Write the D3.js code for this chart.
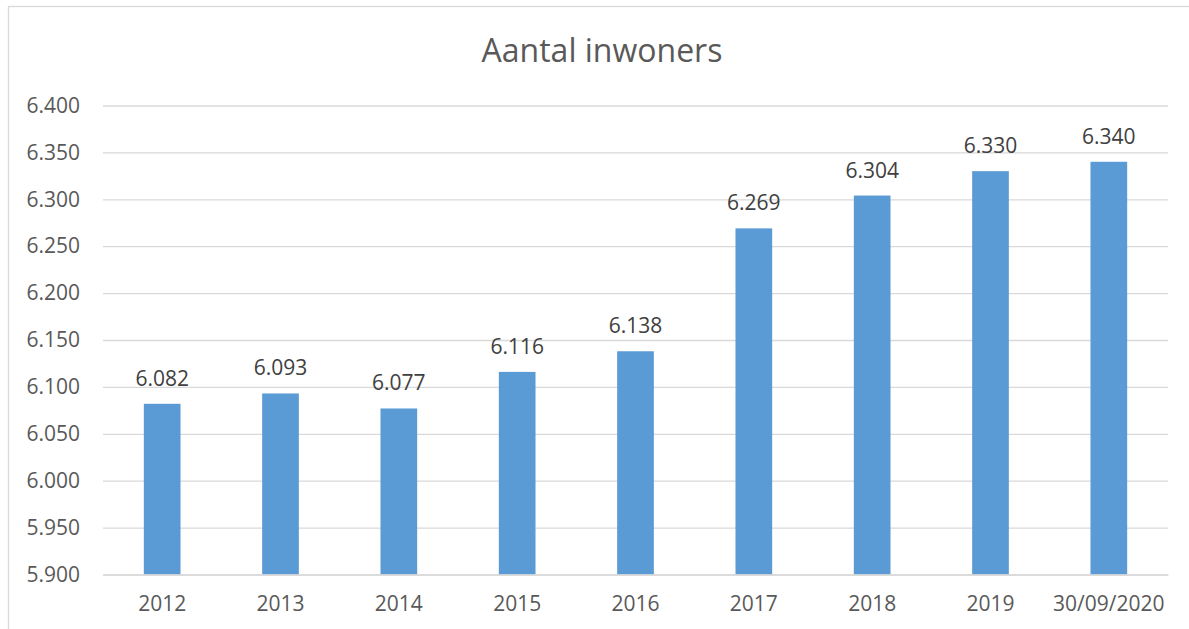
<!DOCTYPE html>
<html><head><meta charset="utf-8">
<script src="https://cdn.jsdelivr.net/npm/d3@7"></script>
<style>html,body{margin:0;padding:0;background:#fff;}svg{display:block;}</style>
</head><body>
<script>
const categories = ["2012","2013","2014","2015","2016","2017","2018","2019","30/09/2020"];
const values = [6082, 6093, 6077, 6116, 6138, 6269, 6304, 6330, 6340];
const yTicks = [5900, 5950, 6000, 6050, 6100, 6150, 6200, 6250, 6300, 6350, 6400];
const title = "Aantal inwoners";

(function () {
const W = 1189, H = 629;
const font = "'Open Sans', sans-serif";
const nl = d3.formatLocale({decimal: ",", thousands: ".", grouping: [3], currency: ["€", ""]});
const fmt = nl.format(",d");

const svg = d3.select("body").append("svg").attr("width", W).attr("height", H);
svg.append("rect").attr("x", 8.5).attr("y", 6.5).attr("width", W + 10).attr("height", H + 10)
  .attr("fill", "#fff").attr("stroke", "#d9d9d9").attr("stroke-width", 1.3);

const mLeft = 103, mRight = 1168, mTop = 105.5, mBottom = 574.5;
const x = d3.scaleBand().domain(categories).range([mLeft, mRight]).paddingInner(0.69).paddingOuter(0.345);
const y = d3.scaleLinear().domain([5900, 6400]).range([mBottom, mTop]);

svg.append("text").attr("x", 602).attr("y", 62).attr("text-anchor", "middle")
  .attr("font-family", font).attr("font-size", 32).attr("fill", "#595959").text(title);

const yAxis = d3.axisLeft(y).tickValues(yTicks).tickSize(-(mRight - mLeft)).tickPadding(23).tickFormat(fmt);
const gy = svg.append("g").attr("transform", `translate(${mLeft},0)`).call(yAxis);
gy.select(".domain").remove();
gy.selectAll(".tick line").attr("stroke", "#d9d9d9").attr("stroke-width", 1.3);
gy.selectAll(".tick text").attr("font-family", font).attr("font-size", 21).attr("fill", "#595959");

svg.append("g").selectAll("rect").data(values).join("rect")
  .attr("x", (d, i) => x(categories[i])).attr("width", x.bandwidth())
  .attr("y", d => y(d)).attr("height", d => y(5900) - y(d))
  .attr("fill", "#5b9bd5");

const xAxis = d3.axisBottom(x).tickSize(0).tickPadding(22);
const gx = svg.append("g").attr("transform", `translate(0,${mBottom})`).call(xAxis);
gx.select(".domain").attr("stroke", "#d9d9d9").attr("stroke-width", 1.3);
gx.selectAll(".tick text").attr("font-family", font).attr("font-size", 21).attr("fill", "#595959");

svg.append("g").selectAll("text").data(values).join("text")
  .attr("x", (d, i) => x(categories[i]) + x.bandwidth() / 2)
  .attr("y", d => y(d) - 18).attr("text-anchor", "middle")
  .attr("font-family", font).attr("font-size", 21).attr("fill", "#404040")
  .text(d => fmt(d));
})();
</script>
</body></html>
